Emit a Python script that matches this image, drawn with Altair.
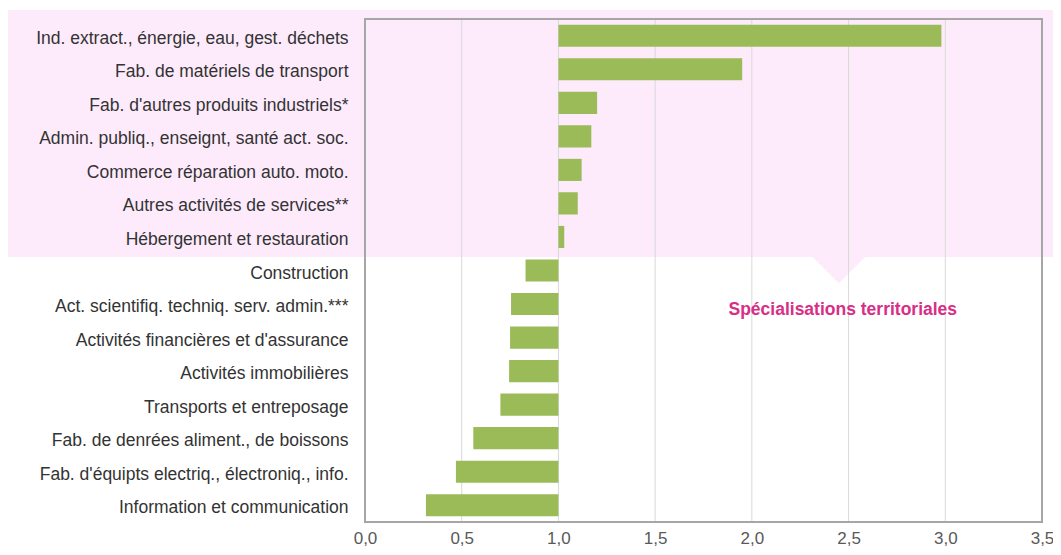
import altair as alt
import pandas as pd

categories = [
    "Ind. extract., énergie, eau, gest. déchets",
    "Fab. de matériels de transport",
    "Fab. d'autres produits industriels*",
    "Admin. publiq., enseignt, santé act. soc.",
    "Commerce réparation auto. moto.",
    "Autres activités de services**",
    "Hébergement et restauration",
    "Construction",
    "Act. scientifiq. techniq. serv. admin.***",
    "Activités financières et d'assurance",
    "Activités immobilières",
    "Transports et entreposage",
    "Fab. de denrées aliment., de boissons",
    "Fab. d'équipts electriq., électroniq., info.",
    "Information et communication",
]
values = [2.98, 1.95, 1.20, 1.17, 1.12, 1.10, 1.03, 0.83, 0.755, 0.75, 0.745, 0.70, 0.56, 0.47, 0.315]
baseline = 1.0
x_ticks = [0.0, 0.5, 1.0, 1.5, 2.0, 2.5, 3.0, 3.5]
annotation_label = "Spécialisations territoriales"
annotation_x = 2.47
pointer_x = 2.45

df = pd.DataFrame({"cat": categories, "val": values, "base": [baseline] * len(values)})
ticks_df = pd.DataFrame({"t": x_ticks})
one = pd.DataFrame({"k": [0]})

W, H = 677, 503

xscale = alt.Scale(domain=[0, 3.5], nice=False, zero=False)
yscale = alt.Scale(paddingInner=0.34, paddingOuter=0.17)

pink = "#fdebfc"

band = alt.Chart(one).mark_rect(color=pink).encode(
    x=alt.value(-357), x2=alt.value(W + 11),
    y=alt.value(-9), y2=alt.value(238),
)

tri = alt.Chart(one).mark_point(
    shape="M-1,-0.5L1,-0.5L0,0.5Z", filled=True, color=pink, opacity=1, size=2809, strokeWidth=0
).encode(
    x=alt.datum(pointer_x, scale=xscale),
    y=alt.value(251),
)

grid = alt.Chart(ticks_df).mark_rule(color="#d9d9d9", strokeWidth=1).encode(
    x=alt.X("t:Q", scale=xscale)
)

bars = alt.Chart(df).mark_bar(color="#9bbb59").encode(
    x=alt.X(
        "val:Q", scale=xscale, title=None,
        axis=alt.Axis(
            values=x_ticks, grid=False, domain=False, ticks=False,
            labelExpr="replace(format(datum.value, '.1f'), '.', ',')",
            labelFont="Liberation Sans", labelFontSize=17, labelColor="#595959",
            labelPadding=8, labelFlush=False, zindex=1,
        ),
    ),
    x2="base:Q",
    y=alt.Y(
        "cat:N", sort=categories, scale=yscale, title=None,
        axis=alt.Axis(
            domain=False, ticks=False, labelLimit=0, labelPadding=17,
            labelFont="Liberation Sans", labelFontSize=17.5, labelColor="#333333",
            labelOffset=3, zindex=1,
        ),
    ),
)

frame = alt.Chart(one).mark_rect(fillOpacity=0, stroke="#a6a6a6", strokeWidth=2).encode(
    x=alt.value(0), x2=alt.value(W), y=alt.value(0), y2=alt.value(H),
)

text = alt.Chart(one).mark_text(
    text=annotation_label, font="Liberation Sans", fontSize=17.5, fontWeight="bold",
    color="#d92e86", align="center", baseline="middle",
).encode(
    x=alt.datum(annotation_x, scale=xscale),
    y=alt.value(291),
)

chart = alt.layer(band, tri, grid, bars, frame, text).properties(
    width=W, height=H,
    autosize=alt.AutoSizeParams(type="none"),
    padding={"left": 357, "top": 11, "right": 11, "bottom": 25},
).configure_view(stroke=None).configure(background="white")

chart.save("out.html", embed_options={"renderer": "svg", "actions": False})
